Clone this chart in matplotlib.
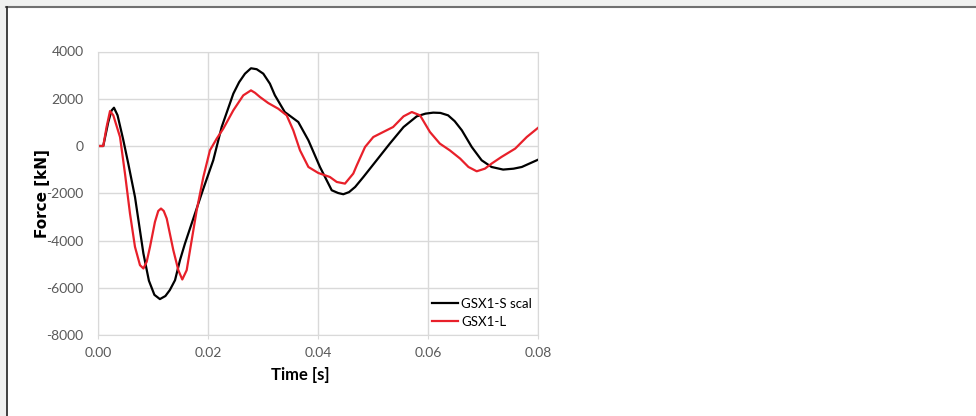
import matplotlib
matplotlib.use("Agg")
import matplotlib.pyplot as plt
from matplotlib.patches import Rectangle
from matplotlib.lines import Line2D

# GSX1-S scal (black)
t_s = [0, 0.0009, 0.0018, 0.0024, 0.00285, 0.0035, 0.0045, 0.00545, 0.00667, 0.0074,
       0.0082, 0.0092, 0.0102, 0.0112, 0.0122, 0.013, 0.01395, 0.01485, 0.01576, 0.01758,
       0.019, 0.0209, 0.02243, 0.02455, 0.0256, 0.02667, 0.02776, 0.0288, 0.030, 0.0312,
       0.0321, 0.0339, 0.03636, 0.0382, 0.0403, 0.04244, 0.0436, 0.04455, 0.0456, 0.0467,
       0.0482, 0.0506, 0.053, 0.0555, 0.0579, 0.0595, 0.0609, 0.0622, 0.0636, 0.0648,
       0.0661, 0.0679, 0.0697, 0.0715, 0.0736, 0.0755, 0.077, 0.08]
f_s = [0, 0, 1000, 1500, 1620, 1300, 300, -745, -2157, -3300,
       -4550, -5700, -6300, -6480, -6350, -6100, -5680, -4833, -4127, -2860,
       -1873, -605, 803, 2215, 2700, 3061, 3290, 3250, 3061, 2638,
       2150, 1438, 1015, 241, -888, -1873, -1990, -2042, -1950, -1734,
       -1311, -605, 101, 803, 1256, 1370, 1412, 1400, 1298, 1050,
       664, -42, -605, -888, -998, -960, -888, -575]

# GSX1-L (red)
t_l = [0, 0.0009, 0.0015, 0.00213, 0.00273, 0.00395, 0.00485, 0.00576, 0.00667, 0.00758,
       0.0082, 0.0088, 0.0094, 0.0103, 0.0109, 0.0114, 0.0119, 0.01244, 0.01364, 0.01455,
       0.01527, 0.01607, 0.01698, 0.01789, 0.0191, 0.0203, 0.02153, 0.02273, 0.02455, 0.02636,
       0.02776, 0.0285, 0.0294, 0.0309, 0.0327, 0.03425, 0.03545, 0.03667, 0.0382, 0.04,
       0.0421, 0.04335, 0.04485, 0.04636, 0.047, 0.0485, 0.05, 0.0518, 0.0536, 0.0555,
       0.057, 0.0585, 0.0603, 0.0621, 0.0639, 0.0658, 0.0673, 0.0688, 0.0703, 0.0715,
       0.0733, 0.0758, 0.0779, 0.08]
f_l = [0, 0, 800, 1480, 1298, 380, -1167, -2858, -4270, -5044,
       -5184, -4900, -4270, -3213, -2750, -2647, -2750, -3070, -4410, -5256,
       -5650, -5256, -3987, -2719, -1311, -182, 313, 736, 1510, 2144,
       2355, 2250, 2072, 1818, 1581, 1298, 664, -182, -888, -1142,
       -1311, -1522, -1592, -1167, -816, -42, 380, 592, 803, 1256,
       1438, 1298, 592, 101, -182, -535, -888, -1070, -958, -746,
       -464, -110, 380, 778]

x_ticks = [0.00, 0.02, 0.04, 0.06, 0.08]
y_ticks = [-8000, -6000, -4000, -2000, 0, 2000, 4000]

W, H = 976, 416
fig = plt.figure(figsize=(W / 100, H / 100), dpi=100)
fig.patch.set_facecolor("white")

# page border strip like the cropped screenshot
fig.patches.append(Rectangle((0, 1 - 6 / H), 1, 6 / H, transform=fig.transFigure,
                             color="#f0f1f0", zorder=0))
fig.patches.append(Rectangle((0, 0), 6 / W, 1, transform=fig.transFigure,
                             color="#f0f1f0", zorder=0))
fig.lines.append(Line2D([6 / W, 1], [1 - 7 / H, 1 - 7 / H], transform=fig.transFigure,
                        color="#707070", lw=1.5))
fig.lines.append(Line2D([6.5 / W, 6.5 / W], [0, 1 - 7 / H], transform=fig.transFigure,
                        color="#222222", lw=1.2))

ax = fig.add_axes([98.3 / W, 1 - 335 / H, 440 / W, 283.5 / H])
ax.plot(t_s, f_s, color="black", lw=1.6, label="GSX1-S scal", solid_joinstyle="round")
ax.plot(t_l, f_l, color="#e8202a", lw=1.6, label="GSX1-L", solid_joinstyle="round")

ax.set_xlim(0, 0.08)
ax.set_ylim(-8000, 4000)
ax.set_xticks(x_ticks)
ax.set_xticklabels([f"{v:.2f}" for v in x_ticks])
ax.set_yticks(y_ticks)
ax.set_yticklabels([str(v) for v in y_ticks])
ax.grid(True, color="#d9d9d9", lw=1)
ax.set_axisbelow(True)
for s in ax.spines.values():
    s.set_color("#d9d9d9")
ax.tick_params(axis="y", length=0, pad=10.5, labelsize=10, labelcolor="#595959")
ax.tick_params(axis="x", length=3, color="#d9d9d9", pad=5.5, labelsize=10, labelcolor="#595959")
for lab in ax.get_xticklabels() + ax.get_yticklabels():
    lab.set_fontfamily("Lato")

ax.set_xlabel("Time [s]", fontsize=12, fontweight="bold", fontfamily="Lato", va="center")
ax.xaxis.set_label_coords((300 - 98.3) / 440, -(375 - 335) / 283.5)
ax.set_ylabel("Force [kN]", fontsize=11, fontweight="bold", fontfamily="DejaVu Sans",
              va="center", ha="center")
ax.yaxis.set_label_coords((42.5 - 98.3) / 440, 0.5)

ax.legend(loc="lower right", bbox_to_anchor=((532 - 98.3) / 440, (335 - 328) / 283.5),
          frameon=False, borderpad=0, borderaxespad=0, handlelength=2.0,
          handletextpad=0.2, labelspacing=0.45, prop={"family": "Lato", "size": 9.5})

fig.savefig("out.png", dpi=100)
